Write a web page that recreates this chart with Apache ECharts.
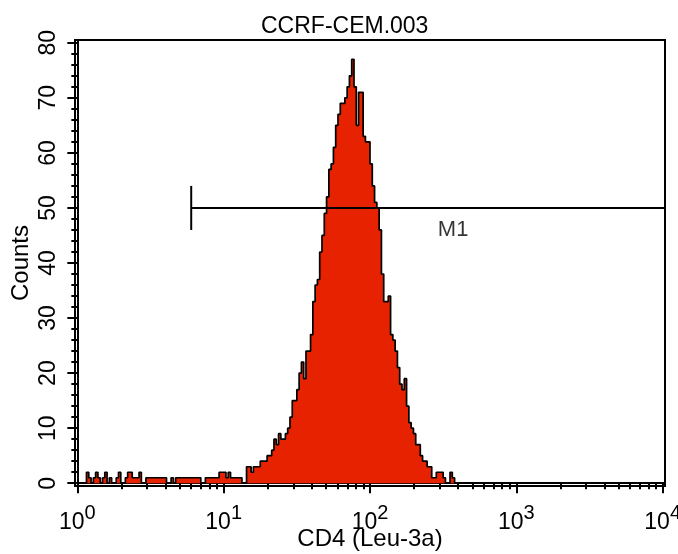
<!DOCTYPE html>
<html>
<head>
<meta charset="utf-8">
<script src="https://cdn.jsdelivr.net/npm/echarts@6/dist/echarts.min.js"></script>
<style>
html,body{margin:0;padding:0;background:#fff;}
#chart{width:678px;height:554px;}
</style>
</head>
<body>
<div id="chart"></div>
<script>
// ---- data ----
var chartTitle = 'CCRF-CEM.003';
var xTitle = 'CD4 (Leu-3a)';
var yTitle = 'Counts';
var channelsPerDecade = 64;            // 256 channels over 4 decades
var decades = [0, 1, 2, 3, 4];         // x tick labels 10^n
var minorMultipliers = [2, 3, 4, 5, 6, 7, 8, 9];
var yMajorTicks = [0, 10, 20, 30, 40, 50, 60, 70, 80];
var yMinorTicks = [0, 2, 4, 6, 8, 10, 12, 14, 16, 18, 20, 22, 24, 26, 28, 30, 32, 34, 36, 38, 40,
                   42, 44, 46, 48, 50, 52, 54, 56, 58, 60, 62, 64, 66, 68, 70, 72, 74, 76, 78, 80];
var counts = [
  0,0,0,0,2,1,0,1,2,1,
  0,1,2,0,1,0,0,1,2,0,
  0,1,2,2,1,1,1,2,0,0,
  1,1,1,1,1,1,1,1,1,0,
  0,1,0,1,1,1,1,1,1,1,
  1,1,1,1,0,0,1,1,1,1,
  1,1,2,2,2,1,2,1,1,1,
  1,1,0,0,3,3,2,3,3,3,
  4,4,4,5,5,6,8,7,9,8,
  8,9,10,12,15,15,17,20,22,19,
  24,24,27,33,36,37,42,45,49,52,
  57,58,61,65,67,69,69,70,72,74,
  77,72,65,71,71,63,62,62,58,54,
  51,50,46,38,33,33,34,27,26,24,
  21,18,17,19,14,11,10,9,7,7,
  5,4,4,3,3,1,1,2,2,2,
  1,0,0,2,1,0,0,0,0,0,
  0,0,0,0,0,0,0,0,0,0,
  0,0,0,0,0,0,0,0,0,0,
  0,0,0,0,0,0,0,0,0,0,
  0,0,0,0,0,0,0,0,0,0,
  0,0,0,0,0,0,0,0,0,0,
  0,0,0,0,0,0,0,0,0,0,
  0,0,0,0,0,0,0,0,0,0,
  0,0,0,0,0,0,0,0,0,0,
  0,0,0,0,0,0
];
var m1Label = 'M1';
var m1Start = 6;        // gate start (linear value)
var m1Level = 50;       // gate drawn at this count
var m1BarHalf = 4;      // half height of the gate's end bar
var m1LabelPos = [370, 46];

// ---- build ----
var FONT = 'Liberation Sans, Arial, Helvetica, sans-serif';
var xMin = -0.016, xMax = 4.016;
var histData = counts.map(function (v, i) { return [i / channelsPerDecade, v]; });
histData.push([counts.length / channelsPerDecade, counts[counts.length - 1]]);
var minorX = [];
for (var d = 0; d < decades.length - 1; d++) {
  minorMultipliers.forEach(function (m) { minorX.push(decades[d] + Math.log10(m)); });
}
var gx = Math.log10(m1Start);

var chart = echarts.init(document.getElementById('chart'), null, {renderer: 'canvas'});
chart.setOption({
  animation: false,
  backgroundColor: '#fff',
  textStyle: {fontFamily: FONT},
  title: {
    text: chartTitle, left: 256, top: 10,
    textStyle: {fontFamily: FONT, fontSize: 23, fontWeight: 'normal', color: '#000'}
  },
  grid: {left: 75, right: 13, top: 40, bottom: 68, show: true, borderColor: '#000', borderWidth: 2,
         containLabel: false, outerBoundsMode: 'none'},
  xAxis: [{
    type: 'value', min: xMin, max: xMax, position: 'bottom',
    name: xTitle, nameLocation: 'middle', nameGap: 41, nameMoveOverlap: false,
    nameTextStyle: {fontFamily: FONT, fontSize: 24, color: '#000'},
    axisLine: {show: true, lineStyle: {color: '#000', width: 2}},
    axisTick: {show: true, customValues: decades, length: 10, lineStyle: {color: '#000', width: 2}},
    axisLabel: {
      show: true, customValues: decades, margin: 17, color: '#000',
      formatter: function (v) { return '{b|10}{s|' + Math.round(v) + '}'; },
      rich: {
        b: {fontFamily: FONT, fontSize: 23, color: '#000', verticalAlign: 'bottom'},
        s: {fontFamily: FONT, fontSize: 20, color: '#000', verticalAlign: 'bottom', padding: [0, 0, 11, 0]}
      }
    },
    splitLine: {show: false}
  }, {
    type: 'value', min: xMin, max: xMax, position: 'bottom',
    axisLine: {show: false},
    axisTick: {show: true, customValues: minorX, length: 6, lineStyle: {color: '#000', width: 2}},
    axisLabel: {show: false},
    splitLine: {show: false}
  }],
  yAxis: [{
    type: 'value', min: -0.5, max: 80.5, position: 'left',
    name: yTitle, nameLocation: 'middle', nameGap: 42, nameMoveOverlap: false,
    nameTextStyle: {fontFamily: FONT, fontSize: 24, color: '#000'},
    axisLine: {show: true, lineStyle: {color: '#000', width: 2}},
    axisTick: {show: true, customValues: yMajorTicks, length: 10, lineStyle: {color: '#000', width: 2}},
    axisLabel: {show: true, customValues: yMajorTicks, rotate: 90, margin: 15, color: '#000', fontFamily: FONT, fontSize: 23},
    splitLine: {show: false}
  }, {
    type: 'value', min: -0.5, max: 80.5, position: 'left',
    axisLine: {show: false},
    axisTick: {show: true, customValues: yMinorTicks, length: 6, lineStyle: {color: '#000', width: 2}},
    axisLabel: {show: false},
    splitLine: {show: false}
  }],
  series: [{
    type: 'line', xAxisIndex: 0, yAxisIndex: 0, step: 'end', data: histData,
    symbol: 'none', silent: true,
    lineStyle: {color: '#000', width: 1.7},
    areaStyle: {color: '#E62200', opacity: 1}
  }, {
    type: 'line', xAxisIndex: 0, yAxisIndex: 0, symbol: 'none', silent: true,
    data: [[gx, m1Level - m1BarHalf], [gx, m1Level + m1BarHalf]],
    lineStyle: {color: '#000', width: 2}
  }, {
    type: 'line', xAxisIndex: 0, yAxisIndex: 0, symbol: 'none', silent: true,
    data: [[gx, m1Level], [xMax, m1Level]],
    lineStyle: {color: '#000', width: 2}
  }, {
    type: 'scatter', xAxisIndex: 0, yAxisIndex: 0, symbolSize: 0, silent: true,
    data: [[Math.log10(m1LabelPos[0]), m1LabelPos[1]]],
    label: {show: true, position: 'inside', formatter: m1Label, fontFamily: FONT, fontSize: 22, color: '#000'}
  }]
});
</script>
</body>
</html>
